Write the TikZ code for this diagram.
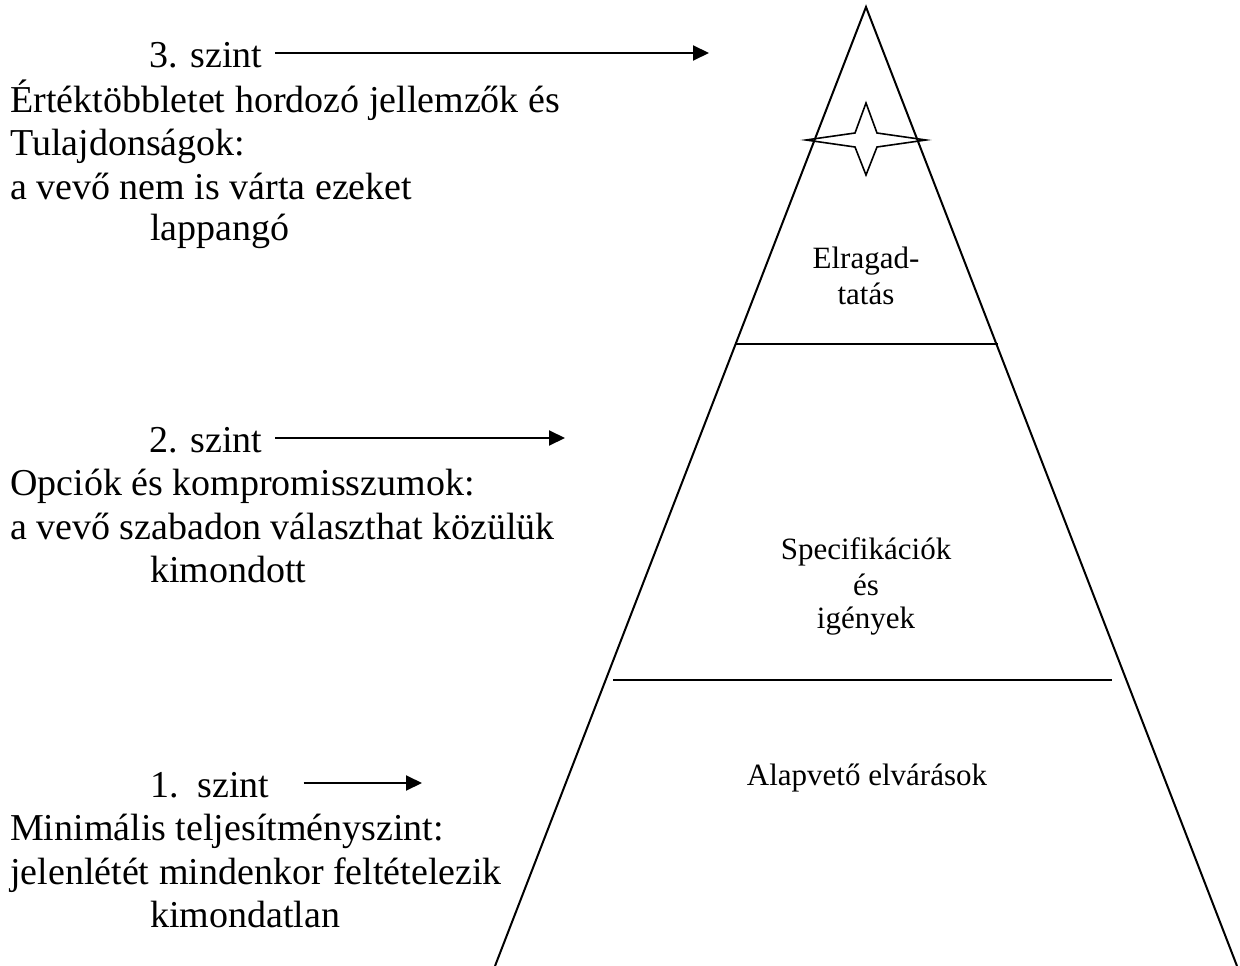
\documentclass[tikz,border=0pt]{standalone}
\usepackage{fontspec}
\setmainfont{Liberation Serif}
\usetikzlibrary{arrows.meta}
\begin{document}
\begin{tikzpicture}[x=1pt,y=-1pt,
  big/.style={font=\fontsize{38}{44}\selectfont,inner sep=0pt,anchor=base west},
  small/.style={font=\fontsize{31}{36}\selectfont,inner sep=0pt,anchor=base},
  edge/.style={line width=2pt},
  arr/.style={line width=2pt,-{Triangle[length=16pt,width=15pt]}}]
\useasboundingbox (0,0) rectangle (1240,966);

% pyramid outline and level dividers
\coordinate (apex) at (866,7);
\coordinate (bl) at (495,966);
\coordinate (br) at (1237,966);
\draw[edge] (bl) -- (apex) -- (br);
\coordinate (d1l) at (735,344);
\coordinate (d1r) at (998,344);
\coordinate (d2l) at (613,680);
\coordinate (d2r) at (1112,680);
\draw[edge] (d1l) -- (d1r);
\draw[edge] (d2l) -- (d2r);

% four-pointed star near the top
\draw[line width=1.6pt,line join=miter]
  (866,103) -- (877,133) -- (926,140) -- (877,147) -- (866,175)
  -- (855,147) -- (806,140) -- (855,133) -- cycle;

% labels inside the pyramid, one node per line
\node[small] (p3a) at (866,268) {Elragad-};
\node[small] (p3b) at (866,304) {tatás};
\node[small] (p2a) at (866,559) {Specifikációk};
\node[small] (p2b) at (866,595) {és};
\node[small] (p2c) at (866,628) {igények};
\node[small] (p1) at (867,785) {Alapvető elvárások};

% level 3 text
\node[big] (t3) at (149,68) {3. szint};
\node[big] (t3a) at (10,112) {Értéktöbbletet hordozó jellemzők és};
\node[big] (t3b) at (10,155) {Tulajdonságok:};
\node[big] (t3c) at (10,199) {a vevő nem is várta ezeket};
\node[big] (t3d) at (150,240) {lappangó};

% level 2 text
\node[big] (t2) at (149,452) {2. szint};
\node[big] (t2a) at (10,495) {Opciók és kompromisszumok:};
\node[big] (t2b) at (10,539) {a vevő szabadon választhat közülük};
\node[big] (t2c) at (150,582) {kimondott};

% level 1 text
\node[big] (t1) at (150,797) {1.\ \ szint};
\node[big] (t1a) at (10,840) {Minimális teljesítményszint:};
\node[big] (t1b) at (10,884) {jelenlétét mindenkor feltételezik};
\node[big] (t1c) at (150,927) {kimondatlan};

% arrows from the level titles
\coordinate (a3) at (709,53);
\coordinate (a2) at (565,438);
\coordinate (a1) at (422,783);
\draw[arr] ([shift={(13pt,15pt)}]t3.base east) -- (a3);
\draw[arr] ([shift={(13pt,14pt)}]t2.base east) -- (a2);
\draw[arr] ([shift={(34pt,14pt)}]t1.base east) -- (a1);
\end{tikzpicture}
\end{document}
